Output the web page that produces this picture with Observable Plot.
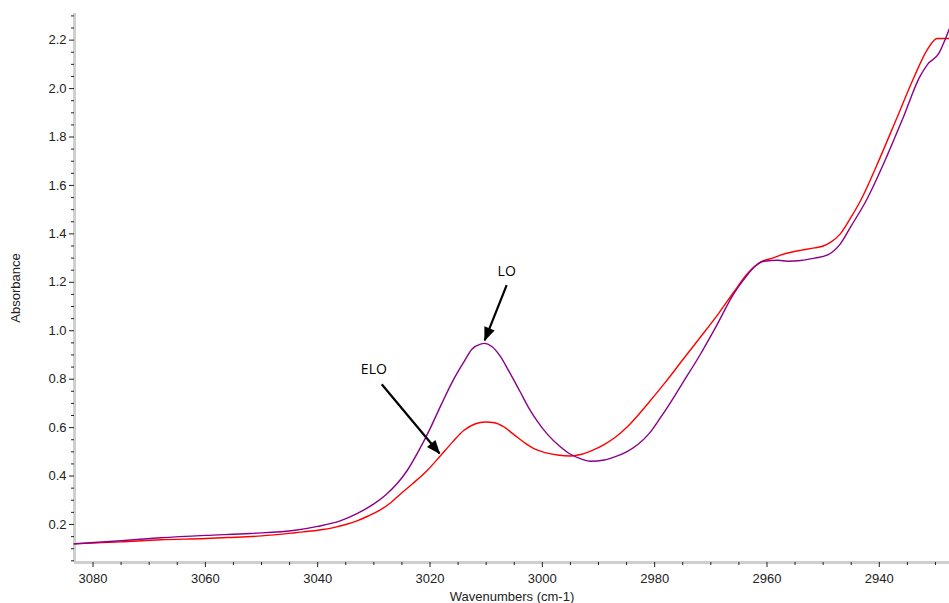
<!DOCTYPE html>
<html>
<head>
<meta charset="utf-8">
<script src="https://cdn.jsdelivr.net/npm/d3@7"></script>
<script src="https://cdn.jsdelivr.net/npm/@observablehq/plot@0.6"></script>
<style>
  html, body { margin: 0; padding: 0; background: #fff; }
  #chart { width: 949px; height: 603px; }
</style>
</head>
<body>
<div id="chart"></div>
<script>
// ---- Data ----
const loWavenumber = [3083.3, 3075, 3068, 3060, 3052, 3044, 3040, 3036, 3033, 3030, 3028, 3026, 3024, 3022, 3020, 3018, 3016, 3014, 3012.5, 3011, 3010.3, 3009, 3007.5, 3006, 3004, 3002.5, 3001, 2999, 2997, 2995, 2993, 2991.4, 2989, 2987, 2985, 2983, 2981, 2979, 2977.7, 2975, 2971.8, 2969, 2965.9, 2964, 2962.3, 2960.5, 2958, 2956.4, 2954, 2951.5, 2949.3, 2946.9, 2945.1, 2942.3, 2938.7, 2935.7, 2932.8, 2931.4, 2929.4, 2928.2, 2927.5];
const loAbsorbance = [0.120, 0.133, 0.145, 0.155, 0.163, 0.176, 0.192, 0.215, 0.245, 0.285, 0.320, 0.365, 0.425, 0.505, 0.595, 0.695, 0.790, 0.870, 0.925, 0.945, 0.948, 0.935, 0.895, 0.835, 0.750, 0.685, 0.630, 0.570, 0.525, 0.490, 0.470, 0.461, 0.466, 0.480, 0.500, 0.530, 0.575, 0.640, 0.685, 0.785, 0.905, 1.020, 1.153, 1.215, 1.262, 1.287, 1.291, 1.287, 1.290, 1.300, 1.312, 1.360, 1.429, 1.539, 1.718, 1.883, 2.048, 2.100, 2.145, 2.207, 2.248];

const eloWavenumber = [3083.4, 3075, 3068, 3060, 3056, 3050, 3044, 3040, 3037, 3035, 3033, 3031, 3029, 3027, 3025.2, 3023, 3020.5, 3018.1, 3016, 3014, 3012, 3010.1, 3008.5, 3007, 3005, 3003, 3001.5, 2999.5, 2997.3, 2995, 2993, 2991, 2989, 2987, 2985, 2983, 2981, 2978, 2975, 2971.8, 2968.5, 2965.9, 2963.5, 2961.1, 2959, 2957.6, 2955.5, 2954, 2951.5, 2950, 2948.7, 2946.9, 2945, 2943.3, 2939.8, 2936.8, 2933.8, 2931.5, 2929.7, 2927.5];
const eloAbsorbance = [0.120, 0.128, 0.137, 0.142, 0.146, 0.153, 0.166, 0.176, 0.188, 0.200, 0.215, 0.235, 0.258, 0.290, 0.327, 0.370, 0.423, 0.485, 0.540, 0.588, 0.615, 0.623, 0.620, 0.605, 0.570, 0.535, 0.513, 0.497, 0.487, 0.483, 0.490, 0.507, 0.530, 0.560, 0.600, 0.650, 0.705, 0.790, 0.880, 0.975, 1.075, 1.160, 1.235, 1.284, 1.300, 1.312, 1.325, 1.332, 1.342, 1.350, 1.365, 1.401, 1.470, 1.539, 1.718, 1.883, 2.048, 2.159, 2.207, 2.207];

const xTicks = [3080, 3060, 3040, 3020, 3000, 2980, 2960, 2940];
const xMinorTicks = [3075, 3070, 3065, 3055, 3050, 3045, 3035, 3030, 3025, 3015, 3010, 3005, 2995, 2990, 2985, 2975, 2970, 2965, 2955, 2950, 2945, 2935, 2930];
const yTicks = [0.2, 0.4, 0.6, 0.8, 1.0, 1.2, 1.4, 1.6, 1.8, 2.0, 2.2];
const yMinorTicks = [0.05, 0.1, 0.15, 0.25, 0.3, 0.35, 0.45, 0.5, 0.55, 0.65, 0.7, 0.75, 0.85, 0.9, 0.95, 1.05, 1.1, 1.15, 1.25, 1.3, 1.35, 1.45, 1.5, 1.55, 1.65, 1.7, 1.75, 1.85, 1.9, 1.95, 2.05, 2.1, 2.15, 2.25, 2.3];

const xDomain = [3083.3, 2927.5];
const yDomain = [0.043, 2.31];

// annotations: label, text position, arrow start and end (data units)
const annLabels = ["LO", "ELO"];
const annTextX = [3006.35, 3030.0];
const annTextY = [1.245, 0.840];
const annX1 = [3006.35, 3028.6];
const annY1 = [1.188, 0.779];
const annX2 = [3010.26, 3018.3];
const annY2 = [0.960, 0.493];

// ---- build tables ----
const lo = loWavenumber.map((w, i) => ({w, a: loAbsorbance[i]}));
const elo = eloWavenumber.map((w, i) => ({w, a: eloAbsorbance[i]}));
const ann = annLabels.map((label, i) => ({label, tx: annTextX[i], ty: annTextY[i], x1: annX1[i], y1: annY1[i], x2: annX2[i], y2: annY2[i]}));

function filledArrow(color, context) {
  const doc = (context && context.document) || document;
  const ns = "http://www.w3.org/2000/svg";
  const m = doc.createElementNS(ns, "marker");
  m.setAttribute("viewBox", "-14 -7 15 14");
  m.setAttribute("markerWidth", 15);
  m.setAttribute("markerHeight", 14);
  m.setAttribute("markerUnits", "userSpaceOnUse");
  m.setAttribute("orient", "auto");
  const p = doc.createElementNS(ns, "path");
  p.setAttribute("d", "M-13,-5.5L1,0L-13,5.5Z");
  p.setAttribute("fill", color);
  p.setAttribute("stroke", "none");
  m.appendChild(p);
  return m;
}

function build(marker) {
  return Plot.plot({
    width: 949,
    height: 603,
    marginLeft: 74,
    marginRight: 0,
    marginTop: 13,
    marginBottom: 41,
    style: {fontFamily: "'Liberation Sans', Arial, Helvetica, sans-serif", fontSize: "13px", background: "#fff", color: "#222"},
    x: {domain: xDomain},
    y: {domain: yDomain},
    marks: [
      Plot.ruleX([xDomain[0]], {stroke: "#cfcfcf", strokeWidth: 3}),
      Plot.ruleY([yDomain[0]], {stroke: "#cfcfcf", strokeWidth: 3}),
      Plot.axisY({ticks: yMinorTicks, tickSize: 3, text: null, label: null, stroke: "#222"}),
      Plot.axisY({ticks: yTicks, tickSize: 5, tickPadding: 3, tickFormat: d3.format(".1f"), label: "Absorbance", labelAnchor: "center", labelArrow: false, labelOffset: 64, stroke: "#222"}),
      Plot.axisX({ticks: xMinorTicks, tickSize: 3, text: null, label: null, stroke: "#222"}),
      Plot.axisX({ticks: xTicks, tickSize: 5, tickPadding: 6, tickFormat: d3.format("d"), label: "Wavenumbers (cm-1)", labelAnchor: "center", labelArrow: false, labelOffset: 38, stroke: "#222"}),
      Plot.line(elo, {x: "w", y: "a", stroke: "#ff0000", strokeWidth: 1.4, curve: "monotone-x"}),
      Plot.line(lo, {x: "w", y: "a", stroke: "#8b008b", strokeWidth: 1.4, curve: "monotone-x"}),
      Plot.link(ann, {x1: "x1", y1: "y1", x2: "x2", y2: "y2", stroke: "#000", strokeWidth: 2.2, markerEnd: marker}),
      Plot.text(ann, {x: "tx", y: "ty", text: "label", fill: "#000", fontSize: 14, fontFamily: "'Open Sans', 'Noto Sans', sans-serif"})
    ]
  });
}

let chart;
try { chart = build(filledArrow); } catch (e) { chart = build("arrow"); }
document.getElementById("chart").appendChild(chart);
</script>
</body>
</html>
